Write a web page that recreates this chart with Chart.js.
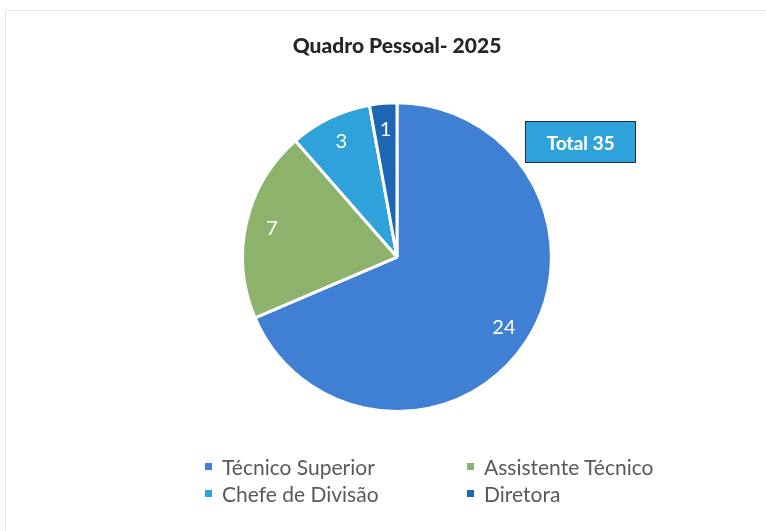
<!DOCTYPE html>
<html>
<head>
<meta charset="utf-8">
<script src="https://cdn.jsdelivr.net/npm/chart.js@4.4.1/dist/chart.umd.min.js"></script>
<style>
  html, body { margin:0; padding:0; background:#fff; }
  body { width:766px; height:531px; position:relative; overflow:hidden; font-family: Lato, "Open Sans", sans-serif; }
  #frame { position:absolute; left:5px; top:10px; width:800px; height:600px; border-left:1px solid #e6e6e6; border-top:1px solid #e6e6e6; }
  #wrap { position:absolute; left:0; top:0; width:766px; height:531px; }
  #total { position:absolute; left:525px; top:121px; width:111px; height:42px; box-sizing:border-box;
           background:#2fa1db; border:1.5px solid #1f2d3d; color:#fff; font-weight:700; font-size:19px;
           display:flex; align-items:center; justify-content:center; }
  #legend { position:absolute; left:0; top:0; }
  .li { position:absolute; display:flex; align-items:center; color:#595959; font-size:21px; white-space:nowrap; }
  .li span.sw { display:inline-block; width:7px; height:7px; margin-right:10px; }
</style>
</head>
<body>
<div id="frame"></div>
<div id="wrap"><canvas id="c" width="766" height="531"></canvas></div>
<div id="total"></div>
<div id="legend"></div>
<script>
const titleText = "Quadro Pessoal- 2025";
const categories = ["Técnico Superior", "Assistente Técnico", "Chefe de Divisão", "Diretora"];
const values = [24, 7, 3, 1];
const colors = ["#3f7fd4", "#8db26b", "#2fa1db", "#1d66b4"];
const totalLabel = "Total";

const total = values.reduce((a, b) => a + b, 0);
document.getElementById('total').textContent = totalLabel + " " + total;

// legend positions (2 columns)
const legendPos = [[205, 466], [467, 466], [205, 493], [467, 493]];
const legendEl = document.getElementById('legend');
categories.forEach((c, i) => {
  const d = document.createElement('div');
  d.className = 'li';
  d.style.left = legendPos[i][0] + 'px';
  d.style.top = (legendPos[i][1] - 13) + 'px';
  d.style.height = '26px';
  const sw = document.createElement('span');
  sw.className = 'sw';
  sw.style.background = colors[i];
  d.appendChild(sw);
  d.appendChild(document.createTextNode(c));
  legendEl.appendChild(d);
});

const labelPlugin = {
  id: 'sliceLabels',
  afterDatasetsDraw(chart) {
    const ctx = chart.ctx;
    const meta = chart.getDatasetMeta(0);
    ctx.save();
    ctx.fillStyle = '#ffffff';
    ctx.font = '400 20px Lato, "Open Sans", sans-serif';
    ctx.textAlign = 'center';
    ctx.textBaseline = 'middle';
    meta.data.forEach((arc, i) => {
      const mid = (arc.startAngle + arc.endAngle) / 2;
      const r = arc.outerRadius * 0.83;
      const x = arc.x + Math.cos(mid) * r;
      const y = arc.y + Math.sin(mid) * r;
      ctx.fillText(String(values[i]), x, y);
    });
    ctx.restore();
  }
};

new Chart(document.getElementById('c'), {
  type: 'pie',
  data: {
    labels: categories,
    datasets: [{
      data: values,
      backgroundColor: colors,
      borderColor: '#ffffff',
      borderWidth: 3
    }]
  },
  options: {
    responsive: false,
    animation: false,
    layout: { padding: { top: 20, bottom: 118, left: 28, right: 0 } },
    plugins: {
      legend: { display: false },
      tooltip: { enabled: false },
      title: {
        display: true,
        text: titleText,
        color: '#262626',
        font: { family: 'Lato, "Open Sans", sans-serif', size: 21, weight: '900' },
        padding: { top: 14, bottom: 42 }
      }
    }
  },
  plugins: [labelPlugin]
});
</script>
</body>
</html>
